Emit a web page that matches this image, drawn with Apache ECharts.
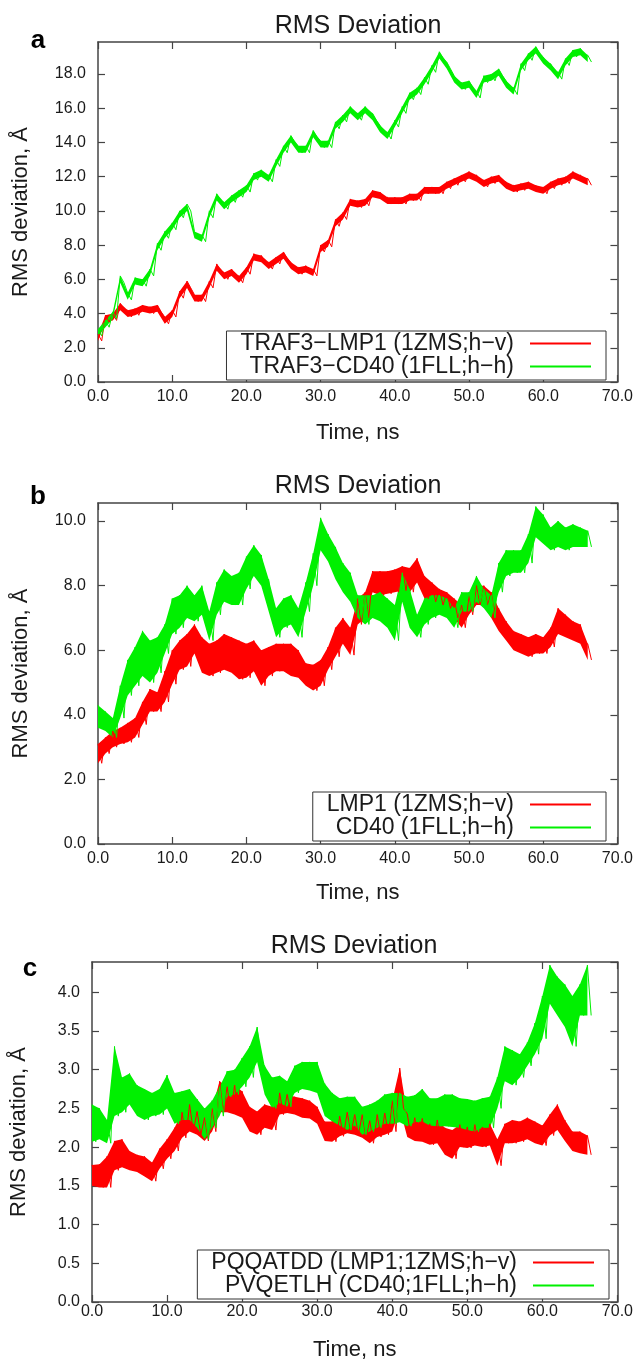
<!DOCTYPE html>
<html>
<head>
<meta charset="utf-8">
<script src="https://cdn.jsdelivr.net/npm/echarts/dist/echarts.min.js"></script>
<style>
  html, body { margin:0; padding:0; background:#fff; }
  #chart { width:636px; height:1362px; }
</style>
</head>
<body>
<div id="chart"></div>
<script>
/* RMS deviation vs time, three stacked panels (a, b, c), gnuplot look */

// --- readings: upper / lower edge of each noisy trace, one per ns (t = 0..66 ns)
const aRedHi = [2.8,3.9,4.0,4.6,4.2,4.3,4.5,4.4,4.5,3.8,4.2,5.3,5.9,5.1,5.1,5.9,6.9,6.4,6.6,6.2,6.7,7.5,7.4,7.0,7.3,7.6,7.0,6.7,6.8,6.6,8.0,8.3,9.5,9.9,10.7,10.6,10.7,11.2,11.1,10.8,10.8,10.8,11.0,11.0,11.4,11.4,11.4,11.7,11.9,12.1,12.3,12.1,11.8,12.0,12.1,11.7,11.5,11.6,11.7,11.5,11.4,11.7,11.9,12.0,12.3,12.1,11.9];
const aRedLo = [2.4,3.5,3.6,4.2,3.8,3.9,4.1,4.0,4.1,3.4,3.8,4.9,5.5,4.7,4.7,5.5,6.5,6.0,6.2,5.8,6.3,7.1,7.0,6.6,6.9,7.2,6.6,6.3,6.4,6.2,7.6,7.9,9.1,9.5,10.3,10.2,10.3,10.8,10.7,10.4,10.4,10.4,10.6,10.6,11.0,11.0,11.0,11.3,11.5,11.7,11.9,11.7,11.4,11.6,11.7,11.3,11.1,11.2,11.3,11.1,11.0,11.3,11.5,11.6,11.9,11.7,11.5];
const aGreenHi = [3.1,3.6,4.1,6.2,5.2,6.1,6.0,6.6,8.1,8.8,9.3,10.0,10.4,8.8,8.6,10.0,11.0,10.5,10.9,11.2,11.5,12.2,12.4,12.1,13.0,13.8,14.4,13.8,13.8,14.7,14.1,14.1,15.2,15.6,16.1,15.7,16.1,15.7,15.0,14.6,15.3,16.1,16.9,17.2,17.8,18.5,19.3,18.7,17.9,17.5,17.6,17.0,17.9,18.0,18.3,17.6,17.2,18.6,19.2,19.6,19.0,18.6,18.1,18.9,19.4,19.5,19.1];
const aGreenLo = [2.7,3.2,3.7,5.8,4.8,5.7,5.6,6.2,7.7,8.4,8.9,9.6,10.0,8.4,8.2,9.6,10.6,10.1,10.5,10.8,11.1,11.8,12.0,11.7,12.6,13.4,14.0,13.4,13.4,14.3,13.7,13.7,14.8,15.2,15.7,15.3,15.7,15.3,14.6,14.2,14.9,15.7,16.5,16.8,17.4,18.1,18.9,18.3,17.5,17.1,17.2,16.6,17.5,17.6,17.9,17.2,16.8,18.2,18.8,19.2,18.6,18.2,17.7,18.5,19.0,19.1,18.7];

const bRedHi = [3.1,3.3,3.5,3.6,3.75,3.9,4.4,4.8,4.7,5.35,6.0,6.3,6.5,6.8,6.4,6.2,6.3,6.5,6.4,6.3,6.2,6.3,6.0,6.1,6.2,6.2,6.2,6.0,5.6,5.55,5.7,6.1,6.7,7.0,6.7,7.6,7.8,8.45,8.45,8.45,8.5,8.6,8.55,8.85,8.3,8.1,7.9,7.8,7.6,7.4,7.7,8.0,8.0,7.8,7.3,6.9,6.6,6.5,6.4,6.5,6.4,6.7,7.3,7.1,6.9,6.8,6.2];
const bRedLo = [2.5,2.8,3.0,3.1,3.15,3.3,3.7,4.1,4.1,4.4,4.95,5.4,5.5,5.9,5.3,5.2,5.3,5.4,5.3,5.1,5.15,5.35,4.9,5.2,5.35,5.35,5.2,5.15,4.9,4.75,4.9,5.4,5.8,6.2,5.85,6.8,7.0,7.8,7.7,7.75,7.8,7.85,7.8,8.1,7.6,7.5,7.4,7.3,7.0,6.7,7.1,7.4,7.4,7.0,6.6,6.3,6.0,5.9,5.8,5.9,5.9,6.1,6.5,6.4,6.3,6.2,5.7];
const bGreenHi = [4.3,4.1,3.9,4.9,5.7,6.1,6.6,6.3,6.4,6.8,7.6,7.7,8.0,7.7,8.0,7.2,8.1,8.5,8.3,8.4,8.9,9.25,8.95,8.2,7.3,7.6,7.7,7.3,8.1,9.0,10.1,9.6,9.2,8.7,8.4,7.7,7.7,7.7,7.8,7.6,7.4,8.4,7.9,7.1,7.6,7.7,7.7,7.6,7.3,7.8,7.8,8.3,7.9,7.7,8.7,9.1,9.1,9.1,9.6,10.45,10.2,9.8,10.0,9.8,9.9,9.8,9.7];
const bGreenLo = [3.6,3.5,3.3,3.9,4.6,4.9,5.2,5.0,5.3,5.9,6.5,6.7,7.0,6.9,7.1,6.3,7.1,7.5,7.4,7.4,7.9,8.3,8.0,7.2,6.4,6.7,6.8,6.4,7.2,8.0,9.1,8.75,8.2,7.8,7.5,7.0,6.8,7.0,6.9,6.7,6.3,7.5,6.7,6.4,6.8,7.0,7.1,7.0,6.7,7.2,7.2,7.5,7.3,7.0,7.8,8.3,8.4,8.4,8.7,9.5,9.3,9.1,9.2,9.1,9.2,9.2,9.2];

const cRedHi = [1.77,1.78,1.88,2.08,2.1,1.95,1.9,1.88,1.8,1.98,2.1,2.25,2.45,2.55,2.46,2.38,2.5,2.85,2.78,2.8,2.72,2.52,2.46,2.55,2.52,2.7,2.68,2.65,2.63,2.6,2.52,2.33,2.33,2.4,2.45,2.42,2.42,2.34,2.42,2.44,2.6,3.02,2.43,2.38,2.37,2.3,2.35,2.25,2.22,2.29,2.26,2.29,2.26,2.3,2.1,2.3,2.35,2.33,2.38,2.33,2.28,2.42,2.55,2.35,2.2,2.2,2.15];
const cRedLo = [1.5,1.48,1.48,1.7,1.74,1.7,1.68,1.62,1.56,1.72,1.85,1.95,2.12,2.2,2.16,2.08,2.2,2.45,2.45,2.42,2.38,2.2,2.16,2.25,2.22,2.42,2.44,2.42,2.38,2.37,2.3,2.08,2.07,2.14,2.18,2.16,2.12,2.05,2.13,2.16,2.2,2.5,2.13,2.08,2.07,2.03,2.05,1.9,1.85,2.0,1.99,2.02,2.0,2.02,1.76,2.05,2.05,2.07,2.1,2.05,2.02,2.15,2.22,2.08,1.95,1.92,1.9];
const cGreenHi = [2.55,2.5,2.35,3.3,2.9,2.95,2.8,2.75,2.7,2.75,2.93,2.7,2.72,2.75,2.62,2.5,2.6,2.78,2.98,3.0,3.15,3.3,3.55,3.05,2.9,2.92,2.85,3.05,3.1,3.1,3.1,2.82,2.7,2.63,2.65,2.65,2.52,2.55,2.6,2.68,2.7,2.7,2.65,2.67,2.75,2.63,2.63,2.68,2.68,2.63,2.62,2.6,2.63,2.65,2.9,3.3,3.25,3.2,3.35,3.6,3.95,4.35,4.2,4.1,3.95,4.1,4.35];
const cGreenLo = [2.07,2.1,2.05,2.4,2.45,2.55,2.4,2.35,2.4,2.42,2.5,2.3,2.35,2.35,2.25,2.1,2.25,2.4,2.65,2.68,2.78,2.9,3.1,2.68,2.5,2.57,2.52,2.7,2.75,2.73,2.7,2.4,2.33,2.28,2.22,2.28,2.16,2.2,2.25,2.3,2.3,2.32,2.27,2.32,2.33,2.28,2.27,2.27,2.26,2.25,2.22,2.2,2.25,2.25,2.5,2.85,2.8,2.9,3.05,3.2,3.4,3.85,3.7,3.55,3.3,3.7,3.7];

// --- legend names
const namesA = ["TRAF3\u2212LMP1 (1ZMS;h\u2212v)", "TRAF3\u2212CD40 (1FLL;h\u2212h)"];
const namesB = ["LMP1 (1ZMS;h\u2212v)", "CD40 (1FLL;h\u2212h)"];
const namesC = ["PQQATDD (LMP1;1ZMS;h\u2212v)", "PVQETLH (CD40;1FLL;h\u2212h)"];

// --- axis ranges
const yMaxes = [19.87, 10.56, 4.39];
const yIntervals = [2, 2, 0.5];
const xTicks = { min: 0, max: 70, interval: 10 };

const FONT = "'Liberation Sans', Arial, Helvetica, sans-serif";
const INK = "#1a1a1a";
const FRAME = "#444";
const RED = "#ff0000";
const GREEN = "#00f000";

// zig between upper and lower edge every half ns -> spiky outline of the band
function zigzag(hi, lo) {
  const out = [];
  for (let i = 0; i < hi.length; i++) {
    out.push([i, hi[i]]);
    out.push([i + 0.5, lo[i]]);
  }
  return out;
}

// filled band (upper edge forward, lower edge back) through the axis scales
function bandRenderer(hi, lo, color) {
  return function (params, api) {
    const pts = [];
    for (let i = 0; i < hi.length; i++) pts.push(api.coord([i, hi[i]]));
    for (let i = lo.length - 1; i >= 0; i--) pts.push(api.coord([i, lo[i]]));
    return { type: "polygon", shape: { points: pts }, style: { fill: color }, silent: true };
  };
}

const panels = [
  { grid: { left: 98, right: 18, top: 42, height: 340 }, names: namesA, red: [aRedHi, aRedLo], green: [aGreenHi, aGreenLo],
    legend: { right: 30, top: 331 }, xGap: 40, yGap: 66, labelMargin: 7, title: [358, 26], letter: ["a", 38, 41] },
  { grid: { left: 98, right: 18, top: 503, height: 341 }, names: namesB, red: [bRedHi, bRedLo], green: [bGreenHi, bGreenLo],
    legend: { right: 30, top: 792 }, xGap: 38, yGap: 66, labelMargin: 7, title: [358, 486], letter: ["b", 38, 497] },
  { grid: { left: 88, right: 18, top: 962, height: 340 }, names: namesC, red: [cRedHi, cRedLo], green: [cGreenHi, cGreenLo],
    legend: { right: 27, top: 1250 }, xGap: 37, yGap: 62, labelMargin: 2, title: [354, 946], letter: ["c", 30, 969] },
];

const frameLine = { show: true, onZero: false, lineStyle: { color: FRAME, width: 1.5 } };
const innerTick = { show: true, inside: true, length: 7, lineStyle: { color: FRAME, width: 1.2 } };

const option = {
  animation: false,
  backgroundColor: "#fff",
  grid: [], xAxis: [], yAxis: [], series: [], legend: [], graphic: [],
};

panels.forEach((p, k) => {
  option.grid.push(p.grid);

  const xBase = { gridIndex: k, type: "value", min: xTicks.min, max: xTicks.max, interval: xTicks.interval,
    axisLine: frameLine, axisTick: innerTick, splitLine: { show: false } };
  option.xAxis.push(Object.assign({}, xBase, {
    position: "bottom",
    name: "Time, ns", nameLocation: "middle", nameGap: p.xGap,
    nameTextStyle: { fontFamily: FONT, fontSize: 22, color: INK },
    axisLabel: { fontFamily: FONT, fontSize: 16, color: INK, margin: p.labelMargin,
      formatter: (v) => v.toFixed(1), showMinLabel: true, showMaxLabel: true, hideOverlap: false },
  }));
  option.xAxis.push(Object.assign({}, xBase, { position: "top", axisLabel: { show: false } }));

  const yBase = { gridIndex: k, type: "value", min: 0, max: yMaxes[k], interval: yIntervals[k],
    axisLine: frameLine, axisTick: innerTick, splitLine: { show: false } };
  option.yAxis.push(Object.assign({}, yBase, {
    position: "left",
    name: "RMS deviation, \u00c5", nameLocation: "middle", nameGap: p.yGap,
    nameTextStyle: { fontFamily: FONT, fontSize: 22, color: INK },
    axisLabel: { fontFamily: FONT, fontSize: 16, color: INK, margin: 12,
      formatter: (v) => v.toFixed(1), showMaxLabel: false, hideOverlap: false },
  }));
  option.yAxis.push(Object.assign({}, yBase, { position: "right", axisLabel: { show: false } }));

  [[p.names[0], RED, p.red], [p.names[1], GREEN, p.green]].forEach(([name, color, hl]) => {
    const [hi, lo] = hl;
    option.series.push({
      type: "custom", name: name + " band", xAxisIndex: 2 * k, yAxisIndex: 2 * k,
      coordinateSystem: "cartesian2d", silent: true, clip: true,
      data: [[0, lo[0]]], encode: { x: 0, y: 1 },
      renderItem: bandRenderer(hi, lo, color),
    });
    // the spiky trace itself (this one carries the legend entry)
    option.series.push({
      name, type: "line", xAxisIndex: 2 * k, yAxisIndex: 2 * k,
      data: zigzag(hi, lo),
      symbol: "none", showSymbol: false, silent: true,
      lineStyle: { color, width: 1 }, itemStyle: { color },
    });
  });

  option.legend.push({
    data: p.names, orient: "vertical", align: "right",
    right: p.legend.right, top: p.legend.top,
    icon: "rect", itemWidth: 61, itemHeight: 2, itemGap: 0,
    padding: [1, 15, 2, 14],
    borderColor: "#333", borderWidth: 1, backgroundColor: "#fff",
    selectedMode: false,
    textStyle: { fontFamily: FONT, fontSize: 23, color: INK, padding: [0, 11, 0, 0] },
  });

  option.graphic.push({
    type: "text", x: p.title[0], y: p.title[1], silent: true,
    style: { text: "RMS Deviation", fontFamily: FONT, fontSize: 25, fill: INK, align: "center", verticalAlign: "middle" },
  });
  option.graphic.push({
    type: "text", x: p.letter[1], y: p.letter[2], silent: true,
    style: { text: p.letter[0], fontFamily: FONT, fontSize: 26, fontWeight: "bold", fill: "#000", align: "center", verticalAlign: "middle" },
  });
});

const chart = echarts.init(document.getElementById("chart"), null, { renderer: "canvas" });
chart.setOption(option);
</script>
</body>
</html>
